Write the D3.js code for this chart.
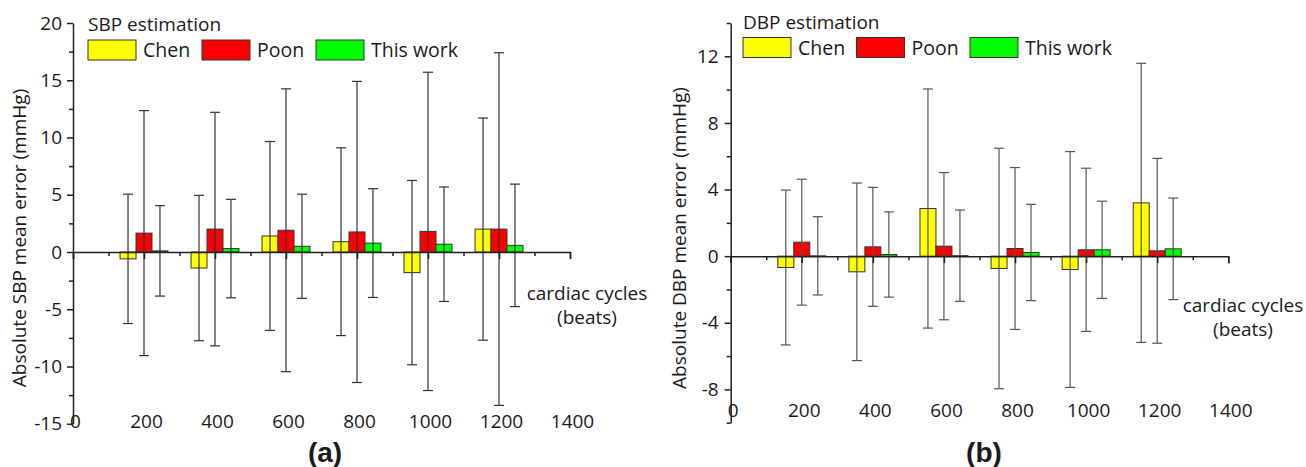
<!DOCTYPE html>
<html>
<head>
<meta charset="utf-8">
<script src="https://cdn.jsdelivr.net/npm/d3@7"></script>
<style>
  body { margin: 0; background: #fff; }
  text { font-family: "Open Sans", sans-serif; fill: #1a1a1a; }
</style>
</head>
<body>
<script>
// cardiac cycles (beats) and the three methods
const cycles = [200, 400, 600, 800, 1000, 1200];
const methods = ["Chen", "Poon", "This work"];
const colors = ["#ffff00", "#ff0000", "#00ff00"];

// SBP mean error and SD (mmHg)
const sbpChen = [-0.6, -1.4, 1.4, 0.9, -1.8, 2.0];
const sbpPoon = [1.65, 2.0, 1.9, 1.75, 1.8, 2.0];
const sbpThis = [0.1, 0.3, 0.5, 0.78, 0.68, 0.58];
const sbpChenSd = [5.65, 6.35, 8.25, 8.2, 8.05, 9.7];
const sbpPoonSd = [10.7, 10.2, 12.35, 13.15, 13.9, 15.4];
const sbpThisSd = [3.95, 4.3, 4.55, 4.75, 5.0, 5.35];

// DBP mean error and SD (mmHg)
const dbpChen = [-0.68, -0.94, 2.86, -0.74, -0.8, 3.2];
const dbpPoon = [0.84, 0.56, 0.6, 0.46, 0.38, 0.32];
const dbpThis = [0.02, 0.1, 0.03, 0.22, 0.38, 0.44];
const dbpChenSd = [4.65, 5.33, 7.18, 7.22, 7.08, 8.38];
const dbpPoonSd = [3.78, 3.57, 4.42, 4.86, 4.9, 5.55];
const dbpThisSd = [2.35, 2.56, 2.74, 2.89, 2.92, 3.05];

// axis ticks
const sbpMajor = [-15, -10, -5, 0, 5, 10, 15, 20];
const sbpMinor = [-12.5, -7.5, -2.5, 2.5, 7.5, 12.5, 17.5];
const dbpMajor = [-8, -4, 0, 4, 8, 12];
const dbpMinor = [-10, -6, -2, 2, 6, 10, 14];
const xMajor = [0, 200, 400, 600, 800, 1000, 1200, 1400];
const xMinor = [100, 300, 500, 700, 900, 1100, 1300];

const width = 1306, height = 467;
const barUnits = 45;  // bar width in beats
const plain = d => String(d);  // "-5", "1000" like the original

const svg = d3.select("body").append("svg")
  .attr("width", width)
  .attr("height", height);

function drawPanel(p) {
  const g = svg.append("g");
  const x = d3.scaleLinear([0, 1400], [p.left, p.right]);
  const y = d3.scaleLinear(p.yDomain, [p.bottom, p.top]);
  const bw = x(barUnits) - x(0);

  // bars and error bars
  p.series.forEach((s, i) => {
    const off = (i - 1) * barUnits;
    const rows = cycles.map((c, k) => ({ c, v: s.mean[k], sd: s.sd[k] }));
    const grp = g.append("g");
    grp.selectAll("rect")
      .data(rows)
      .join("rect")
      .attr("x", d => x(d.c + off) - bw / 2)
      .attr("y", d => y(Math.max(d.v, 0)))
      .attr("width", bw)
      .attr("height", d => Math.abs(y(d.v) - y(0)))
      .attr("fill", colors[i])
      .attr("stroke", "#333")
      .attr("stroke-width", 1);

    const eb = grp.selectAll("g.err")
      .data(rows)
      .join("g")
      .attr("class", "err")
      .attr("stroke", p.errColor)
      .attr("stroke-width", 1.2);
    eb.append("line")
      .attr("x1", d => x(d.c + off)).attr("x2", d => x(d.c + off))
      .attr("y1", d => y(d.v - d.sd)).attr("y2", d => y(d.v + d.sd));
    eb.append("line")
      .attr("x1", d => x(d.c + off) - 5).attr("x2", d => x(d.c + off) + 5)
      .attr("y1", d => y(d.v + d.sd)).attr("y2", d => y(d.v + d.sd));
    eb.append("line")
      .attr("x1", d => x(d.c + off) - 5).attr("x2", d => x(d.c + off) + 5)
      .attr("y1", d => y(d.v - d.sd)).attr("y2", d => y(d.v - d.sd));
  });

  // x axis at y = 0, labels at the bottom
  const xAx = g.append("g").attr("transform", `translate(0,${y(0)})`);
  xAx.call(d3.axisBottom(x).tickValues(xMajor).tickSize(7).tickFormat(""));
  xAx.append("g").call(d3.axisBottom(x).tickValues(xMinor).tickSize(4).tickFormat(""))
    .select(".domain").remove();
  g.append("g")
    .attr("transform", `translate(2,${p.xLabelTop})`)
    .call(d3.axisBottom(x).tickValues(xMajor).tickSize(0).tickPadding(0).tickFormat(plain))
    .call(a => a.select(".domain").remove());

  // y axis
  const yAx = g.append("g").attr("transform", `translate(${p.left},0)`);
  yAx.call(d3.axisLeft(y).tickValues(p.major).tickSize(6).tickPadding(p.pad)
    .tickSizeOuter(0).tickFormat(plain));
  yAx.append("g").call(d3.axisLeft(y).tickValues(p.minor).tickSize(4).tickFormat(""))
    .select(".domain").remove();

  g.selectAll(".domain, .tick line").attr("stroke", "#222").attr("stroke-width", 1.5);
  g.selectAll(".tick text")
    .attr("font-family", "Open Sans")
    .attr("font-size", 19)
    .attr("fill", "#1a1a1a");

  // y label
  g.append("text")
    .attr("transform", `translate(${p.yLabelX},238) rotate(-90)`)
    .attr("text-anchor", "middle")
    .attr("font-size", 19)
    .text(p.yLabel);

  // x label
  const xl = g.append("text")
    .attr("text-anchor", "middle")
    .attr("font-size", 19);
  xl.append("tspan").attr("x", p.xLabelX).attr("y", p.xLabelY).text("cardiac cycles");
  xl.append("tspan").attr("x", p.xLabelX).attr("y", p.xLabelY + 24).text("(beats)");

  // legend
  g.append("text")
    .attr("x", p.legX).attr("y", p.legY)
    .attr("font-size", 19)
    .text(p.title);
  const legItems = g.selectAll("g.leg")
    .data(methods)
    .join("g")
    .attr("class", "leg")
    .attr("transform", (d, i) => `translate(${p.legX + i * p.legStep},${p.legY + 9})`);
  legItems.append("rect")
    .attr("width", 48).attr("height", 20)
    .attr("fill", (d, i) => colors[i])
    .attr("stroke", "#333").attr("stroke-width", 1);
  legItems.append("text")
    .attr("x", 55).attr("y", 17)
    .attr("font-size", 19.5)
    .text(d => d);

  // panel tag
  svg.append("text")
    .attr("x", p.tagX).attr("y", 462)
    .attr("text-anchor", "middle")
    .attr("font-weight", "bold")
    .attr("font-size", 28)
    .style("font-family", "'Liberation Sans', Arial, sans-serif")
    .text(p.tag);
}

drawPanel({
  left: 73, right: 570, top: 23, bottom: 423.75,
  yDomain: [-15, 20], major: sbpMajor, minor: sbpMinor, pad: 5,
  xLabelTop: 414, yLabelX: 26, yLabel: "Absolute SBP mean error (mmHg)",
  xLabelX: 587, xLabelY: 300,
  legX: 88, legY: 31, legStep: 114, title: "SBP estimation",
  errColor: "#333", tag: "(a)", tagX: 325,
  series: [
    { mean: sbpChen, sd: sbpChenSd },
    { mean: sbpPoon, sd: sbpPoonSd },
    { mean: sbpThis, sd: sbpThisSd }
  ]
});

drawPanel({
  left: 730.7, right: 1228.3, top: 23, bottom: 422.7,
  yDomain: [-10, 14], major: dbpMajor, minor: dbpMinor, pad: 6,
  xLabelTop: 403, yLabelX: 686, yLabel: "Absolute DBP mean error (mmHg)",
  xLabelX: 1243, xLabelY: 312,
  legX: 743, legY: 28.5, legStep: 113.5, title: "DBP estimation",
  errColor: "#555", tag: "(b)", tagX: 984,
  series: [
    { mean: dbpChen, sd: dbpChenSd },
    { mean: dbpPoon, sd: dbpPoonSd },
    { mean: dbpThis, sd: dbpThisSd }
  ]
});
</script>
</body>
</html>
